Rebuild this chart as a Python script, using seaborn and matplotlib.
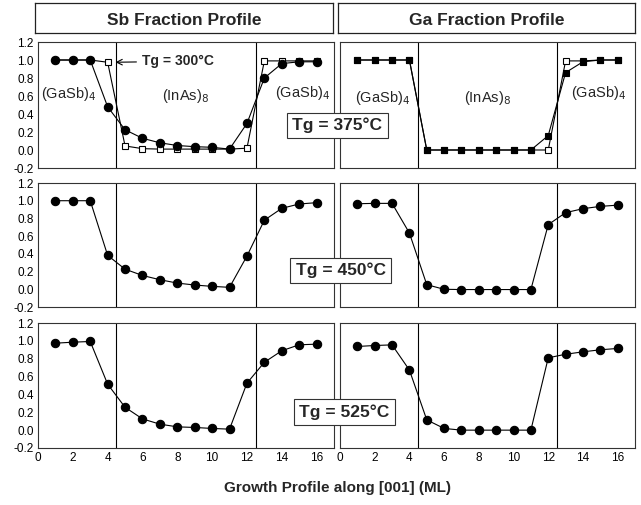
import numpy as np
import pandas as pd
import matplotlib
matplotlib.use("Agg")
import matplotlib.pyplot as plt
import seaborn as sns

sns.set_theme(style="white")
plt.rcParams['font.family'] = ['Liberation Sans', 'DejaVu Sans']

ml = list(range(1, 17))

sb_375 = [1.0, 1.0, 1.0, 0.48, 0.225, 0.13, 0.08, 0.05, 0.037, 0.03, 0.01, 0.295, 0.80, 0.96, 0.98, 0.98]
sb_300 = [1.0, 1.0, 1.0, 0.975, 0.045, 0.015, 0.01, 0.01, 0.01, 0.01, 0.01, 0.02, 0.99, 0.99, 0.99, 0.99]
ga_375 = [1.0, 1.0, 1.0, 1.0, 0.0, 0.0, 0.0, 0.0, 0.0, 0.0, 0.0, 0.16, 0.86, 0.98, 1.0, 1.0]
ga_300 = [1.0, 1.0, 1.0, 1.0, 0.0, 0.0, 0.0, 0.0, 0.0, 0.0, 0.0, 0.0, 0.99, 0.99, 1.0, 1.0]
sb_450 = [1.0, 1.0, 1.0, 0.383, 0.227, 0.156, 0.108, 0.07, 0.048, 0.033, 0.022, 0.375, 0.78, 0.914, 0.963, 0.978]
ga_450 = [0.966, 0.97, 0.97, 0.635, 0.052, 0.0, -0.003, -0.003, -0.003, -0.003, -0.003, 0.73, 0.865, 0.91, 0.936, 0.95]
sb_525 = [0.974, 0.985, 0.993, 0.515, 0.256, 0.126, 0.067, 0.037, 0.03, 0.019, 0.011, 0.526, 0.76, 0.889, 0.956, 0.963]
ga_525 = [0.937, 0.948, 0.955, 0.673, 0.115, 0.019, 0.0, 0.0, 0.0, 0.0, 0.0, 0.81, 0.85, 0.877, 0.90, 0.915]

boundaries = [4.5, 12.5]
temps = ["Tg = 375°C", "Tg = 450°C", "Tg = 525°C"]
titles = ["Sb Fraction Profile", "Ga Fraction Profile"]
yticks = [-0.2, 0.0, 0.2, 0.4, 0.6, 0.8, 1.0, 1.2]
xticks = [0, 2, 4, 6, 8, 10, 12, 14, 16]

W, H = 641, 505
fig = plt.figure(figsize=(W / 100, H / 100), dpi=100)

cols_px = [(38, 334), (340, 635)]
rows_px = [(42, 168), (183, 307), (323, 448)]

def ax_rect(xp, yp):
    return [xp[0] / W, 1 - yp[1] / H, (xp[1] - xp[0]) / W, (yp[1] - yp[0]) / H]

panels = [
    [[(sb_300, 's', 'white'), (sb_375, 'o', 'black')], [(ga_300, 's', 'white'), (ga_375, 's', 'black')]],
    [[(sb_450, 'o', 'black')], [(ga_450, 'o', 'black')]],
    [[(sb_525, 'o', 'black')], [(ga_525, 'o', 'black')]],
]

def msize(mk, fc):
    if mk == 'o':
        return 6.0
    return 4.2 if fc == 'white' else 4.8

axes = {}
for r, yp in enumerate(rows_px):
    for c, xp in enumerate(cols_px):
        ax = fig.add_axes(ax_rect(xp, yp))
        axes[(r, c)] = ax
        for vals, mk, fc in panels[r][c]:
            df = pd.DataFrame({"ML": ml, "frac": vals})
            sns.lineplot(data=df, x="ML", y="frac", ax=ax, color="black", lw=0.8,
                         marker=mk, markersize=msize(mk, fc),
                         markerfacecolor=fc, markeredgecolor="black", markeredgewidth=0.8)
        for b in boundaries:
            ax.axvline(b, color="black", lw=0.8)
        ax.set_xlim(0, 17)
        ax.set_ylim(-0.2, 1.2)
        ax.set_xticks(xticks)
        ax.set_yticks(yticks)
        ax.tick_params(direction="in", length=4, width=0.8, labelsize=8.5, colors="black", pad=3)
        ax.set_yticklabels([f"{t:.1f}" for t in yticks])
        if c == 1:
            ax.set_yticklabels([])
        if r < 2:
            ax.set_xticklabels([])
        ax.set_xlabel("")
        ax.set_ylabel("")
        for s in ax.spines.values():
            s.set_color("#333333")
            s.set_linewidth(0.8)

# title boxes
for c, (x0, x1) in enumerate([(35, 333), (338, 635)]):
    tax = fig.add_axes([x0 / W, 1 - 33 / H, (x1 - x0) / W, 30 / H])
    tax.set_xticks([]); tax.set_yticks([])
    for s in tax.spines.values():
        s.set_color("#222222"); s.set_linewidth(0.9)
    tax.text(0.5, 0.42, titles[c], ha="center", va="center", fontsize=12.5, fontweight="bold",
             transform=tax.transAxes)

# layer labels
ax = axes[(0, 0)]
ax.text(0.2, 0.62, r"(GaSb)$_4$", ha="left", va="center", fontsize=10.5)
ax.text(8.5, 0.60, r"(InAs)$_8$", ha="center", va="center", fontsize=10.5)
ax.text(13.6, 0.63, r"(GaSb)$_4$", ha="left", va="center", fontsize=10.5)
ax.annotate("Tg = 300°C", xy=(4.45, 0.975), xytext=(6.0, 0.985), fontsize=10, fontweight="bold",
            ha="left", va="center",
            arrowprops=dict(arrowstyle="->", color="black", lw=0.8, shrinkA=2, shrinkB=0))
ax = axes[(0, 1)]
ax.text(0.85, 0.58, r"(GaSb)$_4$", ha="left", va="center", fontsize=10.5)
ax.text(8.5, 0.58, r"(InAs)$_8$", ha="center", va="center", fontsize=10.5)
ax.text(13.3, 0.63, r"(GaSb)$_4$", ha="left", va="center", fontsize=10.5)

# temperature boxes
for (cx, cy), t in zip([(337.5, 125.5), (340.5, 270.5), (344.5, 412)], temps):
    fig.text(cx / W, 1 - cy / H, t, ha="center", va="center", fontsize=12.5, fontweight="bold",
             bbox=dict(boxstyle="square,pad=0.3", fc="white", ec="#333333", lw=0.8), zorder=10)

fig.text(338 / W, 1 - 488 / H, "Growth Profile along [001] (ML)", ha="center", va="center",
         fontsize=11, fontweight="bold")

fig.savefig("out.png", dpi=100)
